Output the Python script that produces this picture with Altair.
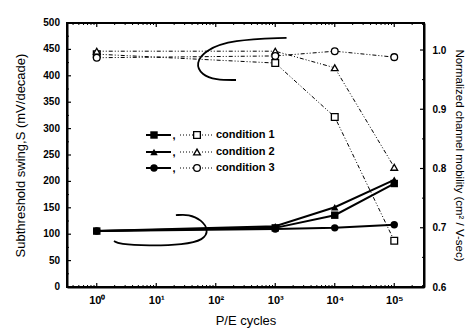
import altair as alt
import pandas as pd

# ---------------- data ----------------
conditions = ["condition 1", "condition 2", "condition 3"]
cycles = [1, 1000, 10000, 100000]

swing_cond1 = [106, 112, 136, 196]
swing_cond2 = [106, 115, 151, 203]
swing_cond3 = [106, 110, 112, 118]

mobility_cond1 = [0.993, 0.978, 0.887, 0.678]
mobility_cond2 = [0.998, 0.998, 0.970, 0.802]
mobility_cond3 = [0.987, 0.990, 0.998, 0.988]

x_tick_values = [1, 10, 100, 1000, 10000, 100000]
x_tick_labels = ["10\u2070", "10\u00b9", "10\u00b2", "10\u00b3", "10\u2074", "10\u2075"]
left_tick_values = [0, 50, 100, 150, 200, 250, 300, 350, 400, 450, 500]
right_tick_values = [0.6, 0.7, 0.8, 0.9, 1.0]

# hand-drawn annotation curves (log10 cycles, swing units)
curve_upper_logx = [3.19, 2.27, 1.83, 1.66, 1.76, 2.0, 2.34]
curve_upper_s = [472, 468, 449, 424, 402, 392, 392]
curve_lower_logx = [1.33, 1.55, 1.76, 1.88, 1.80, 1.46, 0.87, 0.37, 0.29]
curve_lower_s = [136, 138, 127, 108, 89, 80, 78, 81, 87]

# ---------------- tables ----------------
swing = {"condition 1": swing_cond1, "condition 2": swing_cond2, "condition 3": swing_cond3}
mobility = {"condition 1": mobility_cond1, "condition 2": mobility_cond2, "condition 3": mobility_cond3}
rows = []
for c in conditions:
    for i, x in enumerate(cycles):
        rows.append({"condition": c, "cycles": x, "S": swing[c][i], "mob": mobility[c][i], "idx": i})
df = pd.DataFrame(rows)

curves = []
for k, (lx, s) in enumerate([(curve_upper_logx, curve_upper_s), (curve_lower_logx, curve_lower_s)]):
    for i in range(len(lx)):
        curves.append({"curve": k, "cycles": 10 ** lx[i], "S": s[i], "idx": i})
curve_df = pd.DataFrame(curves)

W, H = 357, 264
FONT = "Liberation Sans"
xdom = [10 ** -0.5, 10 ** 5.5]

shape_scale = alt.Scale(domain=conditions, range=["square", "triangle-up", "circle"])
label_expr = "[" + ",".join("'%s'" % t for t in x_tick_labels) + "][round(log(datum.value)/LN10)]"

x_scale = alt.Scale(type="log", domain=xdom, nice=False)
x_axis = alt.Axis(values=x_tick_values, labelExpr=label_expr, title="P/E cycles",
                  ticks=False, grid=False, labelFontSize=11, labelFontWeight="bold",
                  labelPadding=7, titleFontSize=13, titlePadding=9,
                  titleFontWeight="normal", labelFont=FONT, titleFont=FONT,
                  domainColor="black", domainWidth=2, labelColor="black", titleColor="black")
X = lambda f: alt.X(f, scale=x_scale, axis=x_axis)

left_scale = alt.Scale(domain=[0, 500], nice=False)
right_scale = alt.Scale(domain=[0.6, 1.0456], nice=False)

left_axis = alt.Axis(labels=False, title="Subthreshold swing,S (mV/decade)",
                     ticks=False, grid=False, titleFontSize=13, titlePadding=40,
                     titleFontWeight="normal", titleFont=FONT,
                     domainColor="black", domainWidth=2, titleColor="black")
right_axis = alt.Axis(orient="right", values=right_tick_values, format=".1f",
                      title="Normalized channel mobility (cm\u00b2 / V-sec)",
                      ticks=False, grid=False, labelFontSize=10, labelFontWeight="bold",
                      labelOverlap=False, labelPadding=8, titleFontSize=11.5, titlePadding=8,
                      titleFontWeight="normal", labelFont=FONT, titleFont=FONT,
                      domainColor="black", domainWidth=2, labelColor="black", titleColor="black")
YL = lambda f: alt.Y(f, scale=left_scale, axis=left_axis)
YR = lambda f: alt.Y(f, scale=right_scale, axis=right_axis)

# ---------------- left (swing) layer ----------------
filled_lines = alt.Chart(df).mark_line(color="black", strokeWidth=2).encode(
    x=X("cycles:Q"), y=YL("S:Q"), detail="condition:N", order="idx:Q")
filled_pts = alt.Chart(df).mark_point(filled=True, color="black", size=55, opacity=1).encode(
    x=X("cycles:Q"), y=YL("S:Q"),
    shape=alt.Shape("condition:N", scale=shape_scale, legend=None))
curve_lines = alt.Chart(curve_df).mark_line(color="black", strokeWidth=1.8, interpolate="basis").encode(
    x=X("cycles:Q"), y=YL("S:Q"), detail="curve:N", order="idx:Q")

minor_left = pd.DataFrame({"S": [v + 25 for v in left_tick_values[:-1]]})
major_left = pd.DataFrame({"S": left_tick_values, "lab": [str(v) for v in left_tick_values]})
lt_major = alt.Chart(major_left).mark_rule(color="black", strokeWidth=1.2).encode(
    y=YL("S:Q"), x=alt.value(0), x2=alt.value(4))
lt_minor = alt.Chart(minor_left).mark_rule(color="black", strokeWidth=1).encode(
    y=YL("S:Q"), x=alt.value(0), x2=alt.value(2))
lt_labels = alt.Chart(major_left).mark_text(align="right", baseline="middle", fontSize=10,
                                            fontWeight="bold", font=FONT, color="black").encode(
    y=YL("S:Q"), x=alt.value(-7), text="lab:N")

minor_x = [m * 10 ** k for k in range(-1, 6) for m in range(2, 10) if xdom[0] <= m * 10 ** k <= xdom[1]]
bx_major = alt.Chart(pd.DataFrame({"cycles": x_tick_values})).mark_rule(color="black", strokeWidth=1.2).encode(
    x=X("cycles:Q"), y=alt.value(H), y2=alt.value(H - 4))
bx_minor = alt.Chart(pd.DataFrame({"cycles": minor_x})).mark_rule(color="black", strokeWidth=1).encode(
    x=X("cycles:Q"), y=alt.value(H), y2=alt.value(H - 2))
tx_major = alt.Chart(pd.DataFrame({"cycles": x_tick_values})).mark_rule(color="black", strokeWidth=1.2).encode(
    x=X("cycles:Q"), y=alt.value(0), y2=alt.value(4))
tx_minor = alt.Chart(pd.DataFrame({"cycles": minor_x})).mark_rule(color="black", strokeWidth=1).encode(
    x=X("cycles:Q"), y=alt.value(0), y2=alt.value(2))

# ---------------- custom legend ----------------
one = pd.DataFrame({"a": [0]})
legend_layers = []
legend_y = [112, 129, 145]
for i, c in enumerate(conditions):
    y = legend_y[i]
    shp = shape_scale.range[i]
    legend_layers += [
        alt.Chart(one).mark_rule(color="black", strokeWidth=2).encode(
            x=alt.value(79), x2=alt.value(104), y=alt.value(y)),
        alt.Chart(one).mark_point(filled=True, color="black", size=55, opacity=1, shape=shp).encode(
            x=alt.value(87), y=alt.value(y)),
        alt.Chart(one).mark_text(text=",", fontSize=11, fontWeight="bold", font=FONT, color="black").encode(
            x=alt.value(107), y=alt.value(y + 1)),
        alt.Chart(one).mark_rule(color="black", strokeWidth=1, strokeDash=[1, 2]).encode(
            x=alt.value(113), x2=alt.value(126), y=alt.value(y)),
        alt.Chart(one).mark_point(filled=False, color="black", size=45, strokeWidth=1.3, opacity=1, shape=shp).encode(
            x=alt.value(130), y=alt.value(y)),
        alt.Chart(one).mark_rule(color="black", strokeWidth=1, strokeDash=[1, 2]).encode(
            x=alt.value(135), x2=alt.value(146), y=alt.value(y)),
        alt.Chart(one).mark_text(text=c, align="left", baseline="middle", fontSize=11,
                                 fontWeight="bold", font=FONT, color="black").encode(
            x=alt.value(149), y=alt.value(y)),
    ]

left_group = alt.layer(filled_lines, filled_pts, curve_lines, lt_major, lt_minor, lt_labels,
                       bx_major, bx_minor, tx_major, tx_minor, *legend_layers)

# ---------------- right (mobility) layer ----------------
open_lines = alt.Chart(df).mark_line(color="black", strokeWidth=1, strokeDash=[4, 2, 1, 2, 1, 2]).encode(
    x=X("cycles:Q"), y=YR("mob:Q"), detail="condition:N", order="idx:Q")
open_pts = alt.Chart(df).mark_point(filled=False, color="black", size=45, strokeWidth=1.3, opacity=1,
                                    fill="white").encode(
    x=X("cycles:Q"), y=YR("mob:Q"),
    shape=alt.Shape("condition:N", scale=shape_scale, legend=None))
rt_major = alt.Chart(pd.DataFrame({"mob": right_tick_values})).mark_rule(color="black", strokeWidth=1.2).encode(
    y=YR("mob:Q"), x=alt.value(W), x2=alt.value(W - 4))
rt_minor = alt.Chart(pd.DataFrame({"mob": [0.65, 0.75, 0.85, 0.95]})).mark_rule(color="black", strokeWidth=1).encode(
    y=YR("mob:Q"), x=alt.value(W), x2=alt.value(W - 2))

right_group = alt.layer(open_lines, open_pts, rt_major, rt_minor)

chart = alt.layer(left_group, right_group).resolve_scale(y="independent", shape="shared").properties(
    width=W, height=H,
    padding={"left": 59, "top": 15, "right": 44, "bottom": 41},
    autosize=alt.AutoSizeParams(type="none"),
    background="white",
).configure_view(stroke="black", strokeWidth=2)

chart.save("out.html", embed_options={"renderer": "svg", "actions": False})
